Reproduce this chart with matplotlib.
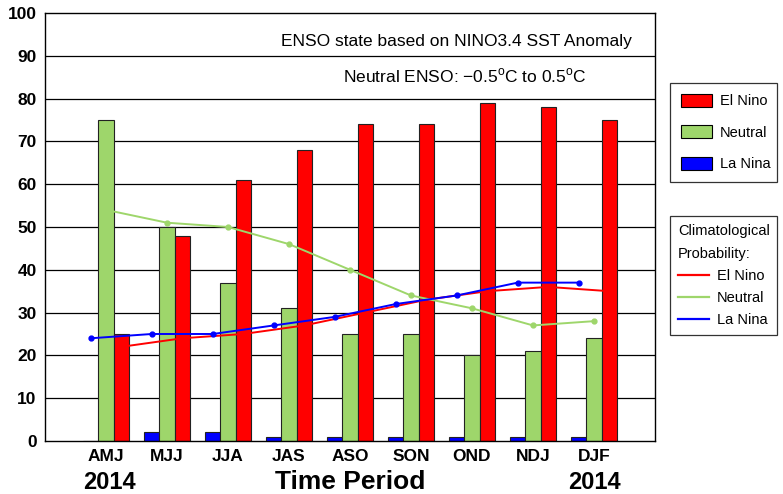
import numpy as np
import matplotlib.pyplot as plt
from matplotlib.patches import Patch
from matplotlib.lines import Line2D

plt.rcParams['font.family'] = ['Liberation Sans', 'DejaVu Sans']

periods = ['AMJ', 'MJJ', 'JJA', 'JAS', 'ASO', 'SON', 'OND', 'NDJ', 'DJF']
el_nino = [25, 48, 61, 68, 74, 74, 79, 78, 75]
neutral = [75, 50, 37, 31, 25, 25, 20, 21, 24]
la_nina = [0, 2, 2, 1, 1, 1, 1, 1, 1]

clim_el_nino = [22, 24, 25, 27, 30, 33, 35, 36, 35]
clim_neutral = [54, 51, 50, 46, 40, 34, 31, 27, 28]
clim_la_nina = [24, 25, 25, 27, 29, 32, 34, 37, 37]

c_red = '#ff0000'
c_green = '#9ed66b'
c_blue = '#0000ff'

x = np.arange(len(periods))
w = 0.25

fig = plt.figure(figsize=(7.83, 4.94), dpi=100)
ax = fig.add_axes([0.0575, 0.1073, 0.779, 0.8664])

for y in range(10, 100, 10):
    ax.axhline(y, color='black', lw=0.9, zorder=0)

ax.bar(x - w, la_nina, w, color=c_blue, edgecolor='#222222', lw=0.8, zorder=2)
ax.bar(x, neutral, w, color=c_green, edgecolor='#222222', lw=0.8, zorder=2)
ax.bar(x + w, el_nino, w, color=c_red, edgecolor='#222222', lw=0.8, zorder=2)

ax.plot(x + w, clim_el_nino, color=c_red, lw=1.4, zorder=3)
ax.plot(x, clim_neutral, color=c_green, lw=1.4, marker='o', ms=3.5, zorder=3)
ax.plot(x - w, clim_la_nina, color=c_blue, lw=1.4, marker='o', ms=3.5, zorder=3)

ax.set_xlim(-1, 9)
ax.set_ylim(0, 100)
ax.set_yticks(range(0, 101, 10))
ax.set_xticks(x)
ax.set_xticklabels(periods, fontsize=12.5, fontweight='bold')
ax.tick_params(axis='both', length=0, pad=6)
for lab in ax.get_yticklabels():
    lab.set_fontsize(12.5)
    lab.set_fontweight('bold')
for s in ax.spines.values():
    s.set_linewidth(1.0)

tr = ax.get_xaxis_transform()
ax.text(0.05, -0.098, '2014', transform=tr, ha='center', va='center', fontsize=17, fontweight='bold')
ax.text(8, -0.098, '2014', transform=tr, ha='center', va='center', fontsize=17, fontweight='bold')
ax.text(4, -0.095, 'Time Period', transform=tr, ha='center', va='center', fontsize=19, fontweight='bold')

ax.text(8.62, 93.3, 'ENSO state based on NINO3.4 SST Anomaly', ha='right', va='center', fontsize=12.5)
ax.text(7.88, 85.3, 'Neutral ENSO: \u22120.5$^\\mathregular{o}$C to 0.5$^\\mathregular{o}$C',
        ha='right', va='center', fontsize=12.5)

W = 107 / 783
h1 = [Patch(facecolor=c, edgecolor='black', lw=0.8) for c in (c_red, c_green, c_blue)]
leg1 = fig.legend(h1, ['El Nino', 'Neutral', 'La Nina'], loc='upper left', mode='expand',
                  bbox_to_anchor=(670 / 783, 1 - 83 / 494, W, 0.0), fontsize=10.5, frameon=True,
                  fancybox=False, edgecolor='black', handlelength=2.1, handleheight=1.0,
                  handletextpad=0.55, labelspacing=1.15, borderpad=0.75, borderaxespad=0)
leg1.get_frame().set_linewidth(0.9)

h2 = [Line2D([], [], color=c, lw=1.6) for c in (c_red, c_green, c_blue)]
leg2 = fig.legend(h2, ['El Nino', 'Neutral', 'La Nina'], loc='upper left', mode='expand',
                  bbox_to_anchor=(670 / 783, 1 - 216 / 494, W, 0.0), fontsize=10.5, frameon=True,
                  fancybox=False, edgecolor='black', handlelength=2.1, handletextpad=0.55,
                  title='Climatological\nProbability:', title_fontsize=10.5, alignment='left',
                  labelspacing=0.55, borderpad=0.55, borderaxespad=0)
leg2.get_title().set_linespacing(1.8)
leg2.get_frame().set_linewidth(0.9)

fig.savefig('out.png', dpi=100)
